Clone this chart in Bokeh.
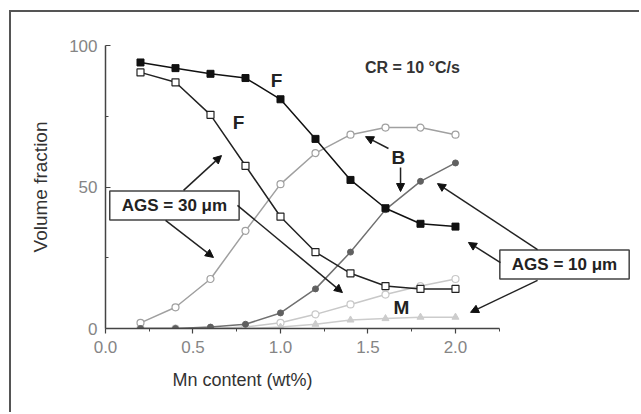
from bokeh.plotting import figure
from bokeh.models import (Range1d, FixedTicker, Label, Arrow, NormalHead,
                          Title, CustomJSTickFormatter)
from bokeh.embed import file_html
from bokeh.resources import INLINE

# Mn content (wt%) of the steels
mn = [0.2, 0.4, 0.6, 0.8, 1.0, 1.2, 1.4, 1.6, 1.8, 2.0]

# Phase volume fractions (%) at CR = 10 °C/s
ferrite_10 = [94, 92, 90, 88.5, 81, 67, 52.5, 42.5, 37, 36]
ferrite_30 = [90.5, 87, 75.5, 57.5, 39.5, 27, 19.5, 15, 14, 14]
bainite_10 = [0, 0, 0.5, 1.5, 5.5, 14, 27, 42, 52, 58.5]
bainite_30 = [2, 7.5, 17.5, 34.5, 51, 62, 68.5, 71, 71, 68.5]
martensite_10 = [0, 0, 0, 0, 0.5, 1.5, 3, 3.5, 4, 4]
martensite_30 = [0, 0, 0, 0.5, 2, 5, 8.5, 12, 15, 17.5]

x_ticks = [0.0, 0.5, 1.0, 1.5, 2.0]
x_minor = [0.25, 0.75, 1.25, 1.75, 2.25]
y_ticks = [0, 50, 100]
y_minor = [25, 75]

FONT = "Liberation Sans"

# the plotting area runs on to the right edge so the call-out boxes fit;
# the x axis itself stops at 2.25
p = figure(width=630, height=402, output_backend="svg", toolbar_location=None,
           x_range=Range1d(0, 3.063), y_range=Range1d(0, 100),
           min_border_left=94, min_border_right=0,
           min_border_top=33, min_border_bottom=86)
p.margin = (10, 0, 0, 9)
p.styles = {"border-left": "2px solid #555555", "border-top": "2px solid #555555"}
p.grid.visible = False
p.outline_line_color = None
p.background_fill_color = "white"
p.border_fill_color = "white"

for ax in (p.xaxis[0], p.yaxis[0]):
    ax.axis_line_color = "#444444"
    ax.axis_line_width = 1.5
    ax.major_tick_line_color = "#444444"
    ax.minor_tick_line_color = "#444444"
    ax.major_tick_line_width = 1.2
    ax.major_label_text_font = FONT
    ax.major_label_text_font_size = "17px"
    ax.major_label_text_color = "#858585"
    ax.axis_label_text_font = FONT
    ax.axis_label_text_font_size = "19px"
    ax.axis_label_text_font_style = "normal"
    ax.axis_label_text_color = "#333333"

p.xaxis.bounds = (0, 2.25)
p.xaxis.ticker = FixedTicker(ticks=x_ticks, minor_ticks=x_minor)
p.xaxis.formatter = CustomJSTickFormatter(code="return tick.toFixed(1);")
p.xaxis.major_tick_in = 0
p.xaxis.major_tick_out = 5
p.xaxis.minor_tick_in = 0
p.xaxis.minor_tick_out = 3
p.xaxis.major_label_standoff = 7

p.add_layout(Title(text="Mn content (wt%)", align="left", offset=67,
                   text_font=FONT, text_font_size="18px",
                   text_font_style="normal", text_color="#333333",
                   standoff=24), "below")

p.yaxis.bounds = (0, 100)
p.yaxis.ticker = FixedTicker(ticks=y_ticks, minor_ticks=y_minor)
p.yaxis.major_tick_in = 5
p.yaxis.major_tick_out = 0
p.yaxis.minor_tick_in = 3
p.yaxis.minor_tick_out = 0
p.yaxis.major_label_standoff = 8
p.yaxis.axis_label = "Volume fraction"
p.yaxis.axis_label_standoff = 15

# martensite (light grey)
p.line(mn, martensite_30, line_color="#c8c8c8", line_width=1.5)
p.scatter(mn, martensite_30, marker="circle", size=7, fill_color="white",
          line_color="#c8c8c8", line_width=1.2)
p.line(mn, martensite_10, line_color="#cccccc", line_width=1.5)
p.scatter(mn, martensite_10, marker="triangle", size=7, fill_color="#cccccc",
          line_color="#cccccc")

# bainite (grey)
p.line(mn, bainite_30, line_color="#a0a0a0", line_width=1.5)
p.scatter(mn, bainite_30, marker="circle", size=7, fill_color="white",
          line_color="#a0a0a0", line_width=1.2)
p.line(mn, bainite_10, line_color="#707070", line_width=1.5)
p.scatter(mn, bainite_10, marker="circle", size=6, fill_color="#606060",
          line_color="#606060")

# ferrite (black)
p.line(mn, ferrite_30, line_color="#222222", line_width=1.5)
p.scatter(mn, ferrite_30, marker="square", size=7, fill_color="white",
          line_color="#222222", line_width=1.2)
p.line(mn, ferrite_10, line_color="#111111", line_width=1.5)
p.scatter(mn, ferrite_10, marker="square", size=7, fill_color="#111111",
          line_color="#111111")

# phase labels
for tx, ty, t in [(0.977, 87.6, "F"), (0.76, 72.8, "F"),
                  (1.674, 60.4, "B"), (1.691, 7.4, "M")]:
    p.add_layout(Label(x=tx, y=ty, text=t, text_font=FONT, text_font_size="19px",
                       text_font_style="bold", text_color="#222222",
                       text_align="center", text_baseline="middle"))

p.add_layout(Label(x=1.754, y=92.2, text="CR = 10 °C/s", text_font=FONT,
                   text_font_size="16px", text_font_style="bold",
                   text_color="#333333", text_align="center",
                   text_baseline="middle"))

# grain size boxes
for bx, by, t in [(0.394, 43.5, "AGS = 30 μm"), (2.623, 22.6, "AGS = 10 μm")]:
    p.add_layout(Label(x=bx, y=by, text=t, text_font=FONT, text_font_size="17px",
                       text_font_style="bold", text_color="#222222",
                       text_align="center", text_baseline="middle",
                       border_line_color="#444444", border_line_width=1.5,
                       background_fill_color="white",
                       padding=dict(left=12, right=12, top=5, bottom=5)))

# pointer arrows
arrows = [
    (0.446, 48.8, 0.663, 61.1),
    (0.343, 38.2, 0.617, 25.1),
    (0.754, 43.5, 1.354, 12.7),
    (2.257, 23.3, 2.074, 30.4),
    (2.469, 27.9, 1.897, 51.2),
    (2.469, 17.0, 2.086, 5.7),
    (1.617, 63.6, 1.486, 67.8),
    (1.686, 56.9, 1.686, 48.4),
]
for xs, ys, xe, ye in arrows:
    p.add_layout(Arrow(x_start=xs, y_start=ys, x_end=xe, y_end=ye,
                       line_color="#222222", line_width=1.5,
                       end=NormalHead(size=8, fill_color="#111111",
                                      line_color="#111111")))

open("out.html", "w").write(file_html(p, INLINE))
